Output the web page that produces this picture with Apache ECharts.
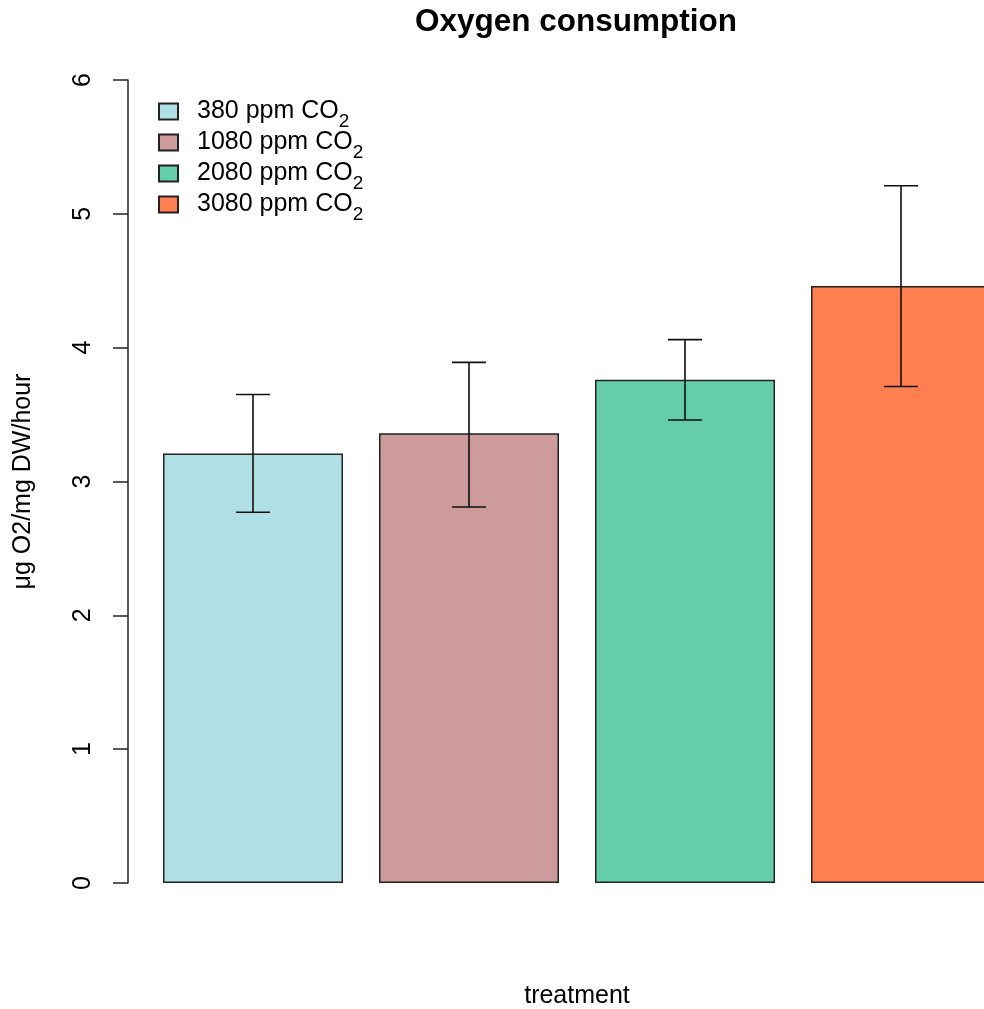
<!DOCTYPE html>
<html>
<head>
<meta charset="utf-8">
<script src="https://cdn.jsdelivr.net/npm/echarts@6/dist/echarts.min.js"></script>
<style>
html,body{margin:0;padding:0;background:#fff;}
#chart{width:984px;height:1009px;}
</style>
</head>
<body>
<div id="chart"></div>
<script>
const categories = ['380 ppm CO2', '1080 ppm CO2', '2080 ppm CO2', '3080 ppm CO2'];
const means = [3.21, 3.36, 3.76, 4.46];
const lower = [2.77, 2.81, 3.46, 3.71];
const upper = [3.65, 3.89, 4.06, 5.21];
const colors = ['#B0E0E6', '#CD9B9B', '#66CDAA', '#FF7F50'];
const yTicks = [0, 1, 2, 3, 4, 5, 6];

const FONT = '"Liberation Sans", Arial, sans-serif';
const chart = echarts.init(document.getElementById('chart'));

const barSeries = categories.map((name, i) => ({
  name: name,
  type: 'bar',
  barWidth: 180,
  barGap: '-100%',
  data: means.map((v, j) => (j === i ? v : '-')),
  itemStyle: { color: colors[i], borderColor: '#222', borderWidth: 1.5 },
  emphasis: { disabled: true },
  z: 2
}));

const errSeries = {
  type: 'custom',
  name: 'err',
  z: 5,
  data: categories.map((c, i) => [i, lower[i], upper[i]]),
  encode: { x: 0, y: [1, 2] },
  renderItem: function (params, api) {
    const x = api.value(0);
    const lo = api.coord([x, api.value(1)]);
    const hi = api.coord([x, api.value(2)]);
    const hw = 17;
    const st = { stroke: '#111', lineWidth: 1.6 };
    return {
      type: 'group',
      children: [
        { type: 'line', shape: { x1: lo[0], y1: lo[1], x2: hi[0], y2: hi[1] }, style: st },
        { type: 'line', shape: { x1: lo[0] - hw, y1: lo[1], x2: lo[0] + hw, y2: lo[1] }, style: st },
        { type: 'line', shape: { x1: hi[0] - hw, y1: hi[1], x2: hi[0] + hw, y2: hi[1] }, style: st }
      ]
    };
  }
};

chart.setOption({
  animation: false,
  backgroundColor: '#fff',
  textStyle: { fontFamily: FONT },
  title: {
    text: 'Oxygen consumption',
    left: 410,
    top: 1,
    textStyle: { fontFamily: FONT, fontSize: 31.5, fontWeight: 'bold', color: '#000' }
  },
  legend: {
    orient: 'vertical',
    left: 153,
    top: 94,
    icon: 'rect',
    itemWidth: 19,
    itemHeight: 16,
    itemGap: -1,
    data: categories,
    selectedMode: false,
    formatter: function (n) {
      return '{pad|}{m|' + n.slice(0, -1) + '}{sub|2}';
    },
    textStyle: {
      fontFamily: FONT,
      color: '#000',
      rich: {
        pad: { width: 14 },
        m: { fontSize: 25, fontFamily: FONT, color: '#000' },
        sub: { fontSize: 19, fontFamily: FONT, color: '#000', padding: [20, 0, 0, 0], verticalAlign: 'bottom' }
      }
    }
  },
  grid: { left: 145, top: 80, right: -25, bottom: 126, outerBoundsMode: 'none', containLabel: false },
  xAxis: {
    type: 'category',
    data: categories,
    name: 'treatment',
    nameLocation: 'middle',
    nameGap: 101,
    nameTextStyle: { fontFamily: FONT, fontSize: 25, color: '#000' },
    axisLine: { show: false },
    axisTick: { show: false },
    axisLabel: { show: false },
    splitLine: { show: false }
  },
  yAxis: {
    type: 'value',
    min: yTicks[0],
    max: yTicks[yTicks.length - 1],
    interval: 1,
    offset: 17,
    name: 'μg O2/mg DW/hour',
    nameLocation: 'middle',
    nameGap: 92,
    nameTextStyle: { fontFamily: FONT, fontSize: 25, color: '#000' },
    axisLine: { show: true, lineStyle: { color: '#222', width: 1.5 } },
    axisTick: { show: true, length: 15, lineStyle: { color: '#222', width: 1.5 } },
    axisLabel: { rotate: 90, margin: 32, fontFamily: FONT, fontSize: 25, color: '#000' },
    splitLine: { show: false }
  },
  series: barSeries.concat([errSeries])
});
</script>
</body>
</html>
